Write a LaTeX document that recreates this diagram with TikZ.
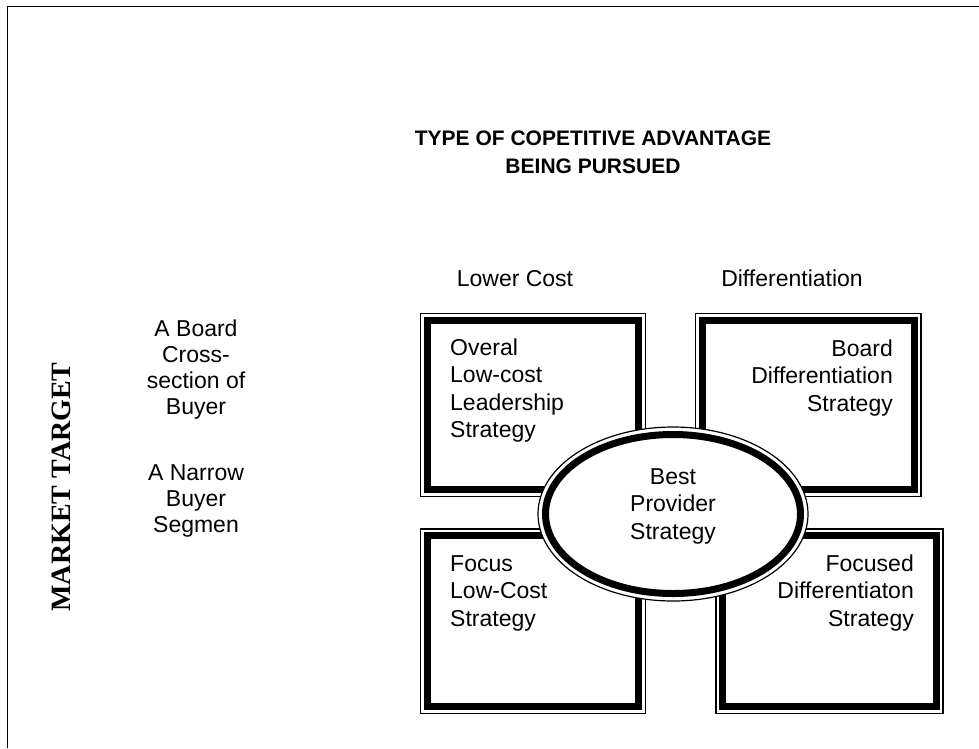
\documentclass[tikz,border=0pt]{standalone}
\usepackage{fontspec}
\setmainfont{Liberation Sans}
\newfontfamily\timesbf{Liberation Serif}
\usetikzlibrary{shapes.geometric}
\begin{document}
\begin{tikzpicture}[x=1pt,y=-1pt,
  thinln/.style={line width=1.2pt},
  thickln/.style={line width=7pt, line join=miter},
  boxnode/.style={draw, thinln, inner sep=0pt, rectangle},
  txt/.style={inner sep=0pt, font=\fontsize{23}{27.5}\selectfont},
  sidetxt/.style={inner sep=0pt, font=\fontsize{23}{26}\selectfont},
  ttl/.style={inner sep=0pt, align=center, font=\fontsize{21}{28}\selectfont\bfseries}]
\useasboundingbox (0,0) rectangle (979,748);
\coordinate (fbl) at (7.5,748);
\coordinate (ftl) at (7.5,6.5);
\coordinate (ftr) at (979,6.5);
\draw[line width=1.6pt] (fbl) -- (ftl) -- (ftr);

% title (base anchor = baseline of last line)
\node[ttl, anchor=base] (title) at (593,173.5) {TYPE OF COPETITIVE ADVANTAGE\\BEING PURSUED};

% column labels
\node[txt, anchor=base] (lc) at (515,286.2) {Lower Cost};
\node[txt, anchor=base] (df) at (792,286.2) {Differentiation};

% row labels
\node[sidetxt, anchor=base, align=center] (broad) at (196,414.2) {A Board\\Cross-\\section of\\Buyer};
\node[sidetxt, anchor=base, align=center] (narrow) at (196,532.2) {A Narrow\\Buyer\\Segmen};
\node[inner sep=0pt, rotate=90, font=\timesbf\fontsize{28}{30}\selectfont\bfseries] (mt) at (61,487) {MARKET TARGET};

% boxes
\node[boxnode, minimum width=224.8pt, minimum height=183.2pt] (tl) at (533.1,405.1) {};
\node[boxnode, minimum width=225.5pt, minimum height=183.2pt] (tr) at (808.25,405.1) {};
\node[boxnode, minimum width=224.8pt, minimum height=184.5pt] (bl) at (533.1,621.25) {};
\node[boxnode, minimum width=227pt, minimum height=184.5pt] (br) at (829.5,621.25) {};
\foreach \b in {tl,tr,bl,br}{
  \draw[thickln] ([shift={(7.5,7.5)}]\b.north west) rectangle ([shift={(-7.5,-7.5)}]\b.south east);
}

% ellipse
\node[ellipse, draw, thinln, fill=white, minimum width=270pt, minimum height=174pt, inner sep=0pt] (bp) at (673,514) {};
\draw[thickln] (bp.center) ellipse [x radius=127.5, y radius=79.5];

% texts
\node[txt, anchor=base west, align=left] (tltx) at (450,437.7) {Overal\\Low-cost\\Leadership\\Strategy};
\node[txt, anchor=base east, align=right] (trtx) at (893,411.2) {Board\\Differentiation\\Strategy};
\node[txt, anchor=base west, align=left] (bltx) at (450,626.2) {Focus\\Low-Cost\\Strategy};
\node[txt, anchor=base east, align=right] (brtx) at (914,626.2) {Focused\\Differentiaton\\Strategy};
\node[txt, anchor=base, align=center] (bptx) at (673,539) {Best\\Provider\\Strategy};
\end{tikzpicture}
\end{document}
